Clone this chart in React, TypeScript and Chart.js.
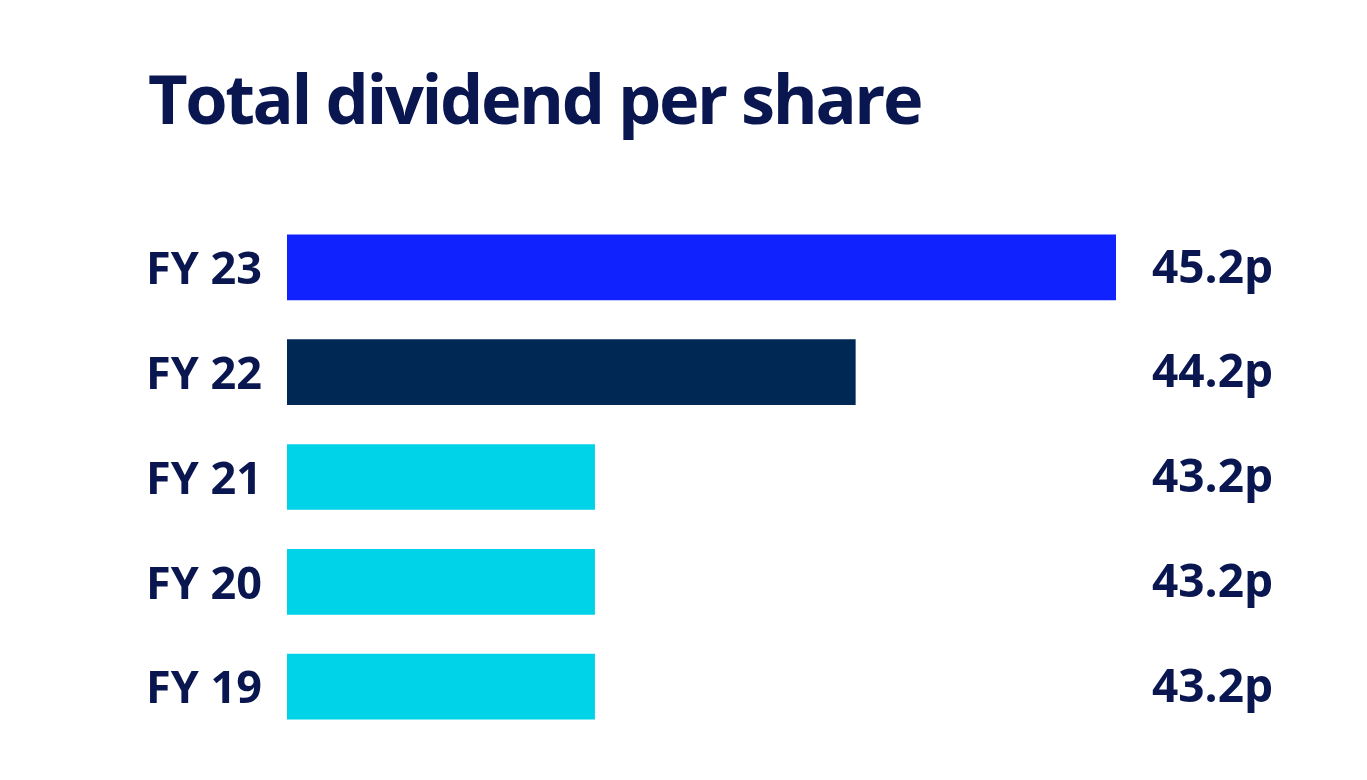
import React, { useEffect, useRef } from "react";
import { Chart, registerables } from "chart.js";

Chart.register(...registerables);

const categories = ["FY 23", "FY 22", "FY 21", "FY 20", "FY 19"];
const values = [45.2, 44.2, 43.2, 43.2, 43.2];
const valueLabels = ["45.2p", "44.2p", "43.2p", "43.2p", "43.2p"];
const barColors = ["#1023FF", "#002855", "#00D2E8", "#00D2E8", "#00D2E8"];
const titleText = "Total dividend per share";

const TEXT_COLOR = "#0A1650";
const FONT = "'Open Sans', 'Noto Sans', sans-serif";

export default function App() {
  const ref = useRef<HTMLCanvasElement | null>(null);

  useEffect(() => {
    document.body.style.margin = "0";
    const canvas = ref.current;
    if (!canvas) return;

    const titlePlugin = {
      id: "customTitle",
      afterDraw(chart: any) {
        const ctx = chart.ctx;
        ctx.save();
        ctx.font = `bold 68.5px ${FONT}`;
        (ctx as any).letterSpacing = "-2.4px";
        ctx.fillStyle = TEXT_COLOR;
        ctx.textAlign = "left";
        ctx.textBaseline = "alphabetic";
        ctx.fillText(titleText, 148, 124);
        ctx.restore();
      },
    };

    const valueLabelPlugin = {
      id: "valueLabels",
      afterDatasetsDraw(chart: any) {
        const ctx = chart.ctx;
        const meta = chart.getDatasetMeta(0);
        ctx.save();
        ctx.font = `bold 46px ${FONT}`;
        ctx.fillStyle = TEXT_COLOR;
        ctx.textAlign = "left";
        ctx.textBaseline = "middle";
        meta.data.forEach((bar: any, i: number) => {
          ctx.fillText(valueLabels[i], chart.chartArea.right + 36, bar.y + 2);
        });
        ctx.restore();
      },
    };

    const chart = new Chart(canvas, {
      type: "bar",
      data: {
        labels: categories,
        datasets: [
          {
            data: values,
            backgroundColor: barColors,
            borderWidth: 0,
            barThickness: 65,
          },
        ],
      },
      options: {
        indexAxis: "y",
        responsive: false,
        animation: false,
        layout: { padding: { left: 146, right: 251, top: 215, bottom: 41 } },
        plugins: {
          legend: { display: false },
          tooltip: { enabled: false },
          title: { display: false },
        },
        scales: {
          x: {
            display: false,
            min: 42.02,
            max: 45.2,
          },
          y: {
            grid: { display: false },
            border: { display: false },
            afterFit(scale: any) {
              scale.width = 141;
            },
            ticks: {
              crossAlign: "far",
              labelOffset: 4,
              color: TEXT_COLOR,
              font: { family: FONT, size: 45, weight: "bold" },
            },
          },
        },
      },
      plugins: [valueLabelPlugin, titlePlugin],
    });

    return () => chart.destroy();
  }, []);

  return (
    <div style={{ width: 1367, height: 780 }}>
      <canvas ref={ref} width={1367} height={780} />
    </div>
  );
}
